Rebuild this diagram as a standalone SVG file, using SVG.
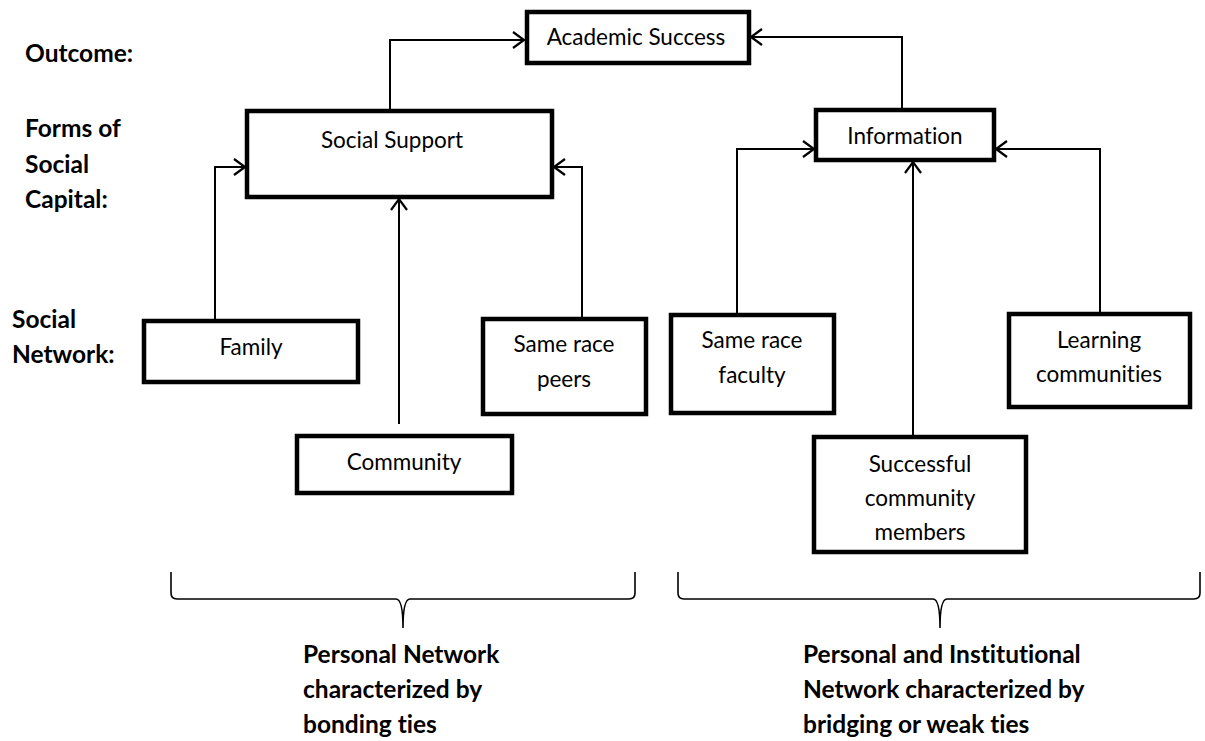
<svg xmlns="http://www.w3.org/2000/svg" width="1205" height="741" viewBox="0 0 1205 741">
<defs>
<style>
.box{fill:#fff;stroke:#000;stroke-width:4.5;stroke-linejoin:miter}
.t{font-family:Lato,"Open Sans","Liberation Sans",sans-serif;font-size:22.5px;fill:#000;text-anchor:middle;font-variant-ligatures:none}
.b{font-family:Lato,"Open Sans","Liberation Sans",sans-serif;font-size:24.5px;font-weight:bold;fill:#000;font-variant-ligatures:none}
.c{fill:none;stroke:#000;stroke-width:2}
.br{fill:none;stroke:#000;stroke-width:1.6}
</style>
<marker id="ah" markerWidth="14" markerHeight="18" refX="12" refY="9" orient="auto" markerUnits="userSpaceOnUse">
<path d="M1,1 L12,9 L1,17" fill="none" stroke="#000" stroke-width="2.2"/>
</marker>
</defs>
<rect width="1205" height="741" fill="#fff"/>
<g id="connectors">
<path class="c" d="M390,111 V40 H524" marker-end="url(#ah)"/>
<path class="c" d="M902,110 V37 H751" marker-end="url(#ah)"/>
<path class="c" d="M215,321 V167 H245" marker-end="url(#ah)"/>
<path class="c" d="M399,424 V199" marker-end="url(#ah)"/>
<path class="c" d="M582,319 V167 H554" marker-end="url(#ah)"/>
<path class="c" d="M737,315 V149 H814" marker-end="url(#ah)"/>
<path class="c" d="M913,437 V162" marker-end="url(#ah)"/>
<path class="c" d="M1100,314 V149 H996" marker-end="url(#ah)"/>
</g>
<g id="labels">
<text class="b" x="25" y="62">Outcome:</text>
<text class="b" x="25" y="137">Forms of</text>
<text class="b" x="25" y="173">Social</text>
<text class="b" x="25" y="208">Capital:</text>
<text class="b" x="12" y="328">Social</text>
<text class="b" x="12" y="363">Network:</text>
</g>
<g id="academic-success">
<rect class="box" x="527" y="12" width="222" height="51"/>
<text class="t" x="636" y="45">Academic Success</text>
</g>
<g id="social-support">
<rect class="box" x="247" y="111" width="305" height="86"/>
<text class="t" x="392" y="148">Social Support</text>
</g>
<g id="information">
<rect class="box" x="816" y="110" width="178" height="50"/>
<text class="t" x="905" y="144">Information</text>
</g>
<g id="family">
<rect class="box" x="144" y="321" width="214" height="61"/>
<text class="t" x="251" y="355">Family</text>
</g>
<g id="same-race-peers">
<rect class="box" x="483" y="319" width="163" height="95"/>
<text class="t" x="564" y="352">Same race</text>
<text class="t" x="564" y="387">peers</text>
</g>
<g id="community">
<rect class="box" x="297" y="436" width="215" height="57"/>
<text class="t" x="404" y="470">Community</text>
</g>
<g id="same-race-faculty">
<rect class="box" x="671" y="315" width="163" height="98"/>
<text class="t" x="752" y="348">Same race</text>
<text class="t" x="752" y="383">faculty</text>
</g>
<g id="learning-communities">
<rect class="box" x="1009" y="314" width="181" height="93"/>
<text class="t" x="1099" y="348">Learning</text>
<text class="t" x="1099" y="382">communities</text>
</g>
<g id="successful-community-members">
<rect class="box" x="814" y="437" width="212" height="115"/>
<text class="t" x="920" y="472">Successful</text>
<text class="t" x="920" y="506">community</text>
<text class="t" x="920" y="540">members</text>
</g>
<g id="brace-left">
<path class="br" d="M171,572 V593 Q171,599 177,599 H396 Q403,599 403,628 Q403,599 410,599 H629 Q635,599 635,593 V572"/>
<text class="b" x="303" y="663">Personal Network</text>
<text class="b" x="303" y="698">characterized by</text>
<text class="b" x="303" y="733">bonding ties</text>
</g>
<g id="brace-right">
<path class="br" d="M678,572 V593 Q678,599 684,599 H933 Q940,599 940,628 Q940,599 947,599 H1194 Q1200,599 1200,593 V572"/>
<text class="b" x="803" y="663">Personal and Institutional</text>
<text class="b" x="803" y="698">Network characterized by</text>
<text class="b" x="803" y="733">bridging or weak ties</text>
</g>
</svg>
